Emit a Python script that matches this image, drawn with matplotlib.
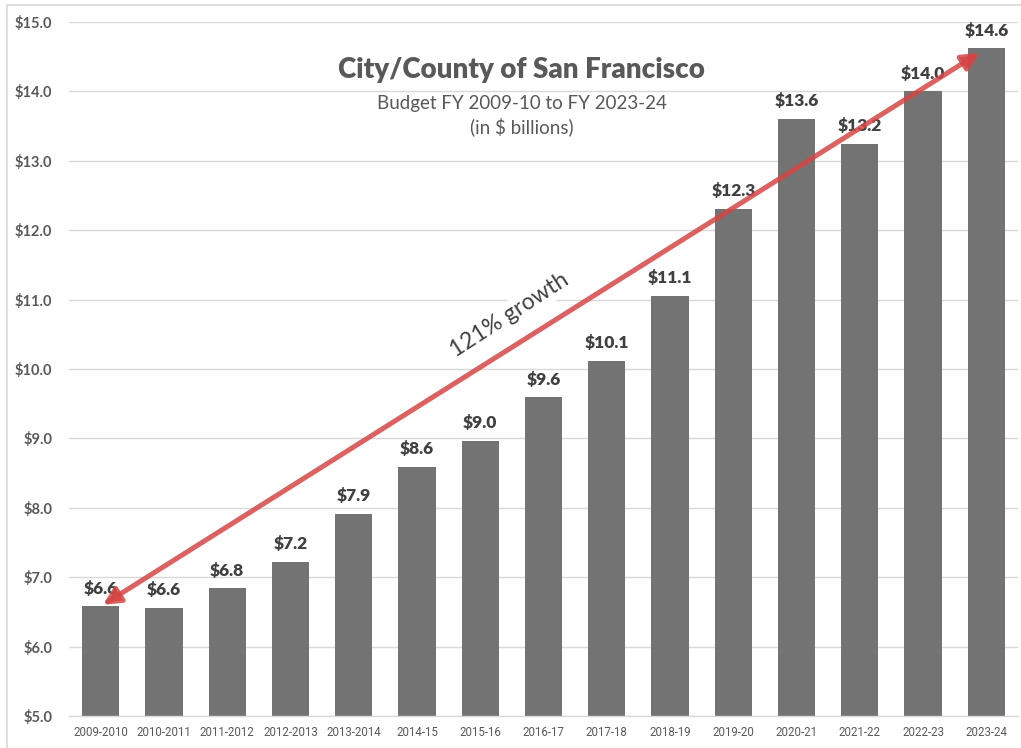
import matplotlib
matplotlib.use("Agg")
import matplotlib.pyplot as plt
from matplotlib.patches import Rectangle

categories = ["2009-2010", "2010-2011", "2011-2012", "2012-2013", "2013-2014",
              "2014-15", "2015-16", "2016-17", "2017-18", "2018-19",
              "2019-20", "2020-21", "2021-22", "2022-23", "2023-24"]
values = [6.58, 6.56, 6.84, 7.22, 7.91, 8.59, 8.96, 9.59, 10.12, 11.05,
          12.31, 13.60, 13.24, 14.00, 14.62]
y_ticks = [5.0, 6.0, 7.0, 8.0, 9.0, 10.0, 11.0, 12.0, 13.0, 14.0, 15.0]

title = "City/County of San Francisco"
subtitle = "Budget FY 2009-10 to FY 2023-24\n(in $ billions)"
growth_label = "121% growth"

CAL = ["Lato", "DejaVu Sans"]

fig = plt.figure(figsize=(10.21, 7.48), dpi=100)
fig.patches.append(Rectangle((7/1021, -0.1), 1.2, 1 - 5/748 + 0.1,
                             transform=fig.transFigure, fill=False,
                             edgecolor="#d9d9d9", linewidth=1.2, zorder=-5))
ax = fig.add_axes([69/1021, 1 - 716/748, (1018 - 69)/1021, (716 - 22)/748])

x = list(range(len(categories)))
ax.bar(x, values, width=0.59, color="#737373", zorder=2)
ax.set_xlim(-0.5, len(categories) - 0.5)
ax.set_ylim(5, 15)
ax.set_yticks(y_ticks)
ax.set_yticklabels([f"${v:.1f}" for v in y_ticks], fontfamily=CAL,
                   fontweight="bold", fontsize=10.5, color="#595959")
ax.set_xticks(x)
ax.set_xticklabels(categories, fontfamily=["Roboto", "DejaVu Sans"],
                   fontsize=8.3, color="#595959")
ax.tick_params(axis="y", length=0, pad=12)
ax.tick_params(axis="x", length=0, pad=7)
ax.grid(axis="y", color="#d9d9d9", linewidth=1.0, zorder=0)
ax.set_axisbelow(True)
for s in ["top", "right", "left"]:
    ax.spines[s].set_visible(False)
ax.spines["bottom"].set_color("#d9d9d9")
ax.spines["bottom"].set_linewidth(1.0)

for xi, v in zip(x, values):
    ax.annotate(f"${v:.1f}", (xi, v), xytext=(0, 7), textcoords="offset points",
                ha="center", va="bottom", fontfamily=CAL, fontweight="heavy",
                fontsize=12.5, color="#404040", zorder=4)

ax.text(0.477, 0.931, title, transform=ax.transAxes, ha="center", va="center",
        fontfamily=CAL, fontweight="heavy", fontsize=20, color="#595959", zorder=5)
ax.text(0.477, 0.865, subtitle, transform=ax.transAxes, ha="center", va="center",
        fontfamily=CAL, fontsize=13.5, color="#595959", linespacing=1.3, zorder=5)

ax.annotate("", xy=(x[-1], values[-1]), xytext=(x[0], values[0]),
            arrowprops=dict(arrowstyle="<|-|>,head_length=1.0,head_width=0.5",
                            color="#d64545", alpha=0.85, linewidth=3.6,
                            shrinkA=2, shrinkB=6),
            zorder=6)

ax.text(6.47, 10.78, growth_label, rotation=33, rotation_mode="anchor",
        ha="center", va="center", fontfamily=CAL, fontsize=16.5, color="#404040",
        bbox=dict(facecolor="white", edgecolor="none", pad=2), zorder=3)

fig.savefig("out.png", dpi=100)
